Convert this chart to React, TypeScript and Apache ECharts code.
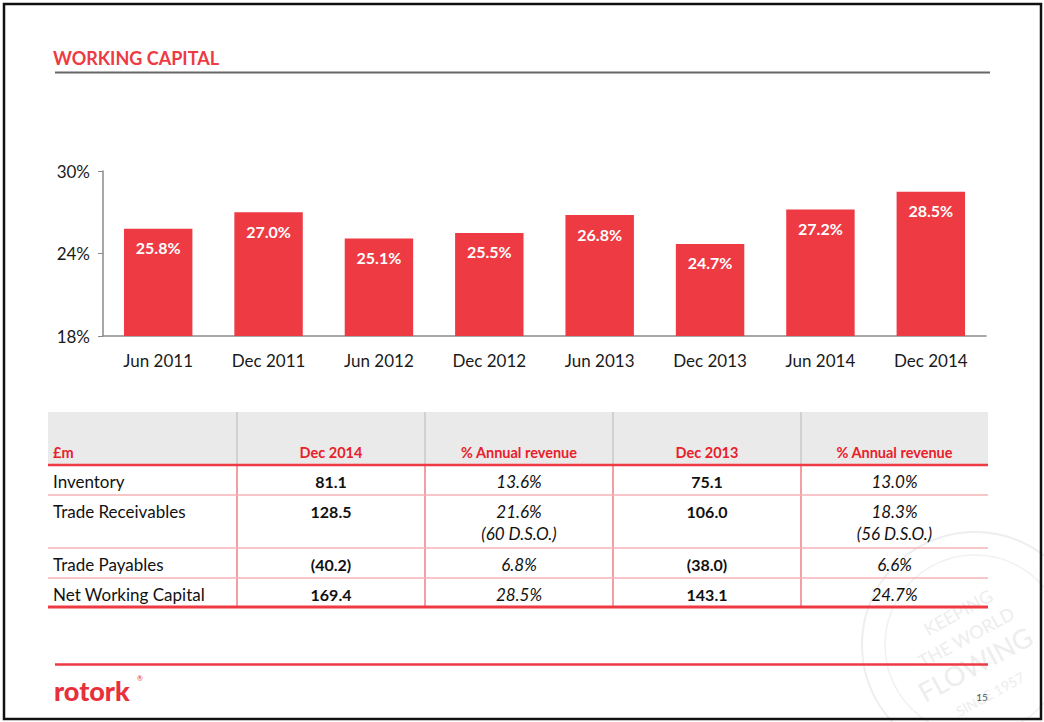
import React, { useEffect, useRef } from "react";
import * as echarts from "echarts";

const periods = ["Jun 2011", "Dec 2011", "Jun 2012", "Dec 2012", "Jun 2013", "Dec 2013", "Jun 2014", "Dec 2014"];
const wcPercent = [25.8, 27.0, 25.1, 25.5, 26.8, 24.7, 27.2, 28.5];

const headers = ["£m", "Dec 2014", "% Annual revenue", "Dec 2013", "% Annual revenue"];
const rowLabels = ["Inventory", "Trade Receivables", "Trade Payables", "Net Working Capital"];
const dec2014 = [81.1, 128.5, -40.2, 169.4];
const pct2014 = [13.6, 21.6, 6.8, 28.5];
const dso2014 = [null, 60, null, null];
const dec2013 = [75.1, 106.0, -38.0, 143.1];
const pct2013 = [13.0, 18.3, 6.6, 24.7];
const dso2013 = [null, 56, null, null];

const RED = "#EE3A43";
const FONT = "Lato, 'Open Sans', sans-serif";

const fmtMoney = (v: number) => (v < 0 ? `(${Math.abs(v).toFixed(1)})` : v.toFixed(1));
const fmtPct = (v: number) => `${v.toFixed(1)}%`;

function txt(x: number, y: number, text: string, opts: any = {}) {
  const align = opts.align || "left";
  return {
    type: "text",
    x,
    y,
    z: opts.z ?? 10,
    rotation: opts.rotation || 0,
    style: {
      text,
      fill: opts.fill || "#111",
      fontSize: opts.fontSize || 16,
      fontWeight: opts.fontWeight || "normal",
      fontStyle: opts.fontStyle || "normal",
      fontFamily: opts.fontFamily || FONT,
      align,
      textAlign: align,
      verticalAlign: "middle",
      textVerticalAlign: "middle",
    },
  };
}

function ln(x1: number, y1: number, x2: number, y2: number, stroke: string, lineWidth: number, z = 5) {
  return { type: "line", z, shape: { x1, y1, x2, y2 }, style: { stroke, lineWidth } };
}

function buildGraphics() {
  const g: any[] = [];
  // frame
  g.push({ type: "rect", z: 1, shape: { x: 4, y: 4, width: 1037, height: 715 }, style: { fill: "none", stroke: "#111", lineWidth: 2.5 } });
  // watermark
  g.push({ type: "circle", z: 0, shape: { cx: 975, cy: 645, r: 113 }, style: { fill: "none", stroke: "#EEEEEE", lineWidth: 2 } });
  g.push({ type: "circle", z: 0, shape: { cx: 975, cy: 645, r: 90 }, style: { fill: "none", stroke: "#F1F1F1", lineWidth: 1.5 } });
  g.push(txt(958, 612, "KEEPING", { fill: "#EDEDED", fontSize: 18, rotation: 0.5, align: "center", z: 0 }));
  g.push(txt(966, 637, "THE WORLD", { fill: "#EDEDED", fontSize: 18, rotation: 0.5, align: "center", z: 0 }));
  g.push(txt(975, 664, "FLOWING", { fill: "#EDEDED", fontSize: 27, rotation: 0.5, align: "center", z: 0 }));
  g.push(txt(990, 694, "SINCE 1957", { fill: "#EDEDED", fontSize: 14, rotation: 0.5, align: "center", z: 0 }));

  // title
  g.push(txt(53, 58, "WORKING CAPITAL", { fill: RED, fontSize: 18, fontWeight: "bold" }));
  g.push(ln(55, 72.5, 990, 72.5, "#666", 2));

  // table
  const colX = [48, 237, 425, 613, 801, 988];
  const centers = [0, 1, 2, 3, 4].map((i) => (colX[i] + colX[i + 1]) / 2);
  const headTop = 412;
  const headBottom = 465;
  const rowTops = [465, 495, 548, 578];
  const tableBottom = 607;
  g.push({ type: "rect", z: 2, shape: { x: 48, y: headTop, width: 940, height: headBottom - headTop }, style: { fill: "#EAEAEA" } });
  for (let i = 1; i < 5; i++) g.push(ln(colX[i], headTop, colX[i], headBottom, "#C9C9C9", 1.5, 3));
  headers.forEach((h, i) => {
    if (i === 0) g.push(txt(53, 452, h, { fill: "#E8202A", fontSize: 14.5, fontWeight: "bold" }));
    else g.push(txt(centers[i], 452, h, { fill: "#E8202A", fontSize: 14.5, fontWeight: "bold", align: "center" }));
  });
  // body verticals
  for (let i = 1; i < 5; i++) g.push(ln(colX[i], headBottom, colX[i], tableBottom, "#F07C84", 1.5, 4));
  // row separators
  for (let r = 1; r < rowTops.length; r++) g.push(ln(48, rowTops[r], 988, rowTops[r], "#F6B3B7", 1.5, 4));
  g.push(ln(48, headBottom, 988, headBottom, RED, 2.5, 6));
  g.push(ln(48, tableBottom, 988, tableBottom, RED, 3, 6));

  rowLabels.forEach((label, r) => {
    const y = rowTops[r] + 16.5;
    g.push(txt(53, y, label, { fontSize: 17, fill: "#111" }));
    g.push(txt(centers[1], y, fmtMoney(dec2014[r]), { fontSize: 16, fontWeight: "bold", align: "center" }));
    g.push(txt(centers[2], y, fmtPct(pct2014[r]), { fontSize: 17, fontStyle: "italic", align: "center" }));
    g.push(txt(centers[3], y, fmtMoney(dec2013[r]), { fontSize: 16, fontWeight: "bold", align: "center" }));
    g.push(txt(centers[4], y, fmtPct(pct2013[r]), { fontSize: 17, fontStyle: "italic", align: "center" }));
    if (dso2014[r] != null) g.push(txt(centers[2], y + 22, `(${dso2014[r]} D.S.O.)`, { fontSize: 17, fontStyle: "italic", align: "center" }));
    if (dso2013[r] != null) g.push(txt(centers[4], y + 22, `(${dso2013[r]} D.S.O.)`, { fontSize: 17, fontStyle: "italic", align: "center" }));
  });

  // footer
  g.push(ln(55, 664.5, 988, 664.5, RED, 2.5));
  g.push(txt(54, 690, "rotork", { fill: "#E8303A", fontSize: 27, fontWeight: 900 }));
  g.push(txt(137, 678, "®", { fill: "#E8303A", fontSize: 7 }));
  g.push(txt(982, 697, "15", { fill: "#555", fontSize: 10, align: "center" }));
  return g;
}

export default function App() {
  const ref = useRef<HTMLDivElement>(null);
  useEffect(() => {
    if (!ref.current) return;
    const chart = echarts.init(ref.current, null, { renderer: "svg" });
    chart.setOption({
      animation: false,
      backgroundColor: "#fff",
      grid: { left: 103, right: 58, top: 171, bottom: 386, containLabel: false },
      xAxis: {
        type: "category",
        data: periods,
        axisLine: { lineStyle: { color: "#8A8A8A", width: 1.5 } },
        axisTick: { show: false },
        axisLabel: { color: "#1A1A1A", fontSize: 17, fontFamily: FONT, margin: 16 },
      },
      yAxis: {
        type: "value",
        min: 18,
        max: 30,
        interval: 6,
        axisLine: { show: true, lineStyle: { color: "#8A8A8A", width: 1.5 } },
        axisTick: { show: true, length: 5, lineStyle: { color: "#8A8A8A" } },
        splitLine: { show: false },
        axisLabel: { color: "#1A1A1A", fontSize: 17, fontFamily: FONT, margin: 13, formatter: (v: number) => `${v}%` },
      },
      series: [
        {
          type: "bar",
          data: wcPercent,
          barWidth: "62%",
          itemStyle: { color: RED },
          label: {
            show: true,
            position: "insideTop",
            distance: 11,
            color: "#fff",
            fontSize: 16,
            fontWeight: "bold",
            fontFamily: FONT,
            formatter: (p: any) => `${Number(p.value).toFixed(1)}%`,
          },
        },
      ],
      graphic: { elements: buildGraphics() },
    });
    return () => chart.dispose();
  }, []);
  return <div ref={ref} style={{ position: "fixed", left: 0, top: 0, width: 1044, height: 722, background: "#fff" }} />;
}
